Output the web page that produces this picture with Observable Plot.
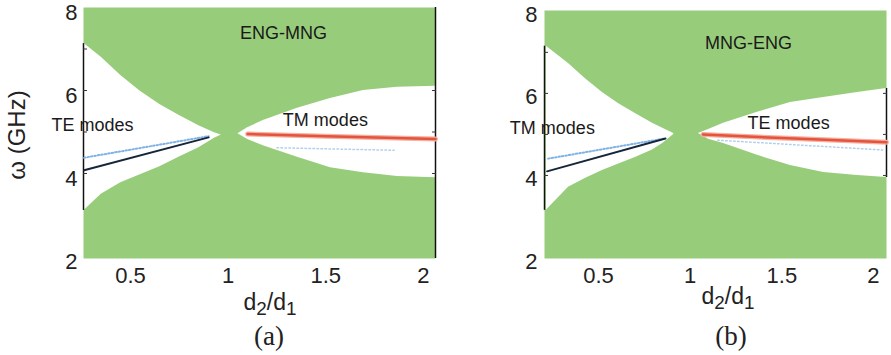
<!DOCTYPE html>
<html><head><meta charset="utf-8">
<script src="https://cdn.jsdelivr.net/npm/d3@7"></script>
<script src="https://cdn.jsdelivr.net/npm/@observablehq/plot@0.6"></script>
<style>
body{margin:0;background:#fff;}
#wrap{position:relative;width:891px;height:355px;font-family:"Liberation Sans",Arial,sans-serif;overflow:hidden;}
.panel{position:absolute;top:0;}
.xl{position:absolute;font-size:23px;line-height:1;text-align:center;width:120px;color:#222;}
.xl sub{font-size:0.82em;vertical-align:-0.25em;line-height:0;}
.yl{position:absolute;font-size:24px;line-height:1;width:140px;text-align:center;color:#222;transform:rotate(-90deg);transform-origin:center center;}
.cap{position:absolute;font-family:"Liberation Serif","Times New Roman",serif;font-size:27px;line-height:1;width:80px;text-align:center;color:#222;}
</style></head>
<body><div id="wrap">
<div id="pa" class="panel" style="left:0"></div>
<div id="pb" class="panel" style="left:445px"></div>
<div class="yl" style="left:-53px;top:123px">ω (GHz)</div>
<div class="xl" style="left:210px;top:291px">d<sub>2</sub>/d<sub>1</sub></div>
<div class="xl" style="left:668px;top:285px">d<sub>2</sub>/d<sub>1</sub></div>
<div class="cap" style="left:229px;top:323px">(a)</div>
<div class="cap" style="left:691px;top:323px">(b)</div>
</div>
<script>
const GREEN = "#97cd7a";
const xTicks = [0.5, 1, 1.5, 2];
const yTicks = [2, 4, 6, 8];
const minorTicks = [4, 5, 6, 7];
const rightTicks = [4, 5, 6];

// ---- Panel (a): ENG-MNG ----
const aXDomain = [0.259, 2.062];
const aYDomain = [1.952, 8];
const aLeftX   = [0.262, 0.35, 0.45, 0.55, 0.65, 0.75, 0.85, 0.93, 0.965];
const aLeftTop = [7.13, 6.80, 6.36, 5.98, 5.66, 5.40, 5.15, 4.98, 4.93];
const aLeftBot = [3.11, 3.50, 3.78, 3.97, 4.16, 4.40, 4.62, 4.85, 4.93];
const aRightX   = [1.05, 1.10, 1.18, 1.355, 1.524, 1.693, 1.867, 2.062];
const aRightTop = [4.96, 5.10, 5.28, 5.57, 5.81, 6.00, 6.08, 6.10];
const aRightBot = [4.96, 4.82, 4.67, 4.39, 4.14, 4.02, 3.93, 3.90];
const aBlackX = [0.262, 0.90];
const aBlackY = [4.08, 4.87];
const aBlueX = [0.262, 0.90];
const aBlueY = [4.38, 4.90];
const aRedX = [1.10, 1.5, 2.062];
const aRedY = [4.95, 4.90, 4.83];
const aFaintX = [1.25, 1.85];
const aFaintY = [4.62, 4.56];
const aLabels = [
  {x: 1.283, y: 7.37, text: "ENG-MNG", anchor: "middle"},
  {x: 0.305, y: 5.16, text: "TE modes", anchor: "start"},
  {x: 1.498, y: 5.28, text: "TM modes", anchor: "start"}
];

// ---- Panel (b): MNG-ENG ----
const bXDomain = [0.205, 2.071];
const bYDomain = [1.976, 8.02];
const bLeftX   = [0.215, 0.336, 0.43, 0.521, 0.61, 0.701, 0.794, 0.85, 0.91];
const bLeftTop = [7.15, 6.73, 6.35, 6.02, 5.75, 5.51, 5.27, 5.15, 5.02];
const bLeftBot = [3.15, 3.71, 3.93, 4.12, 4.28, 4.44, 4.62, 4.78, 5.00];
const bRightX   = [1.045, 1.10, 1.182, 1.367, 1.547, 1.728, 1.913, 2.071];
const bRightTop = [5.02, 5.12, 5.27, 5.54, 5.78, 5.90, 6.02, 6.12];
const bRightBot = [5.02, 4.88, 4.78, 4.49, 4.24, 4.07, 4.00, 3.95];
const bBlackX = [0.219, 0.865];
const bBlackY = [4.10, 4.90];
const bBlueX = [0.225, 0.86];
const bBlueY = [4.41, 4.90];
const bRedX = [1.07, 1.5, 2.071];
const bRedY = [5.00, 4.91, 4.81];
const bFaintX = [1.15, 2.05];
const bFaintY = [4.86, 4.62];
const bLabels = [
  {x: 1.318, y: 7.22, text: "MNG-ENG", anchor: "middle"},
  {x: 0.248, y: 5.15, text: "TM modes", anchor: "start"},
  {x: 1.537, y: 5.27, text: "TE modes", anchor: "start"}
];

const wedge = (xs, lo, hi) => xs.map((x, i) => ({x, lo: lo[i], hi: hi[i]}));
const pts = (xs, ys) => xs.map((x, i) => ({x, y: ys[i]}));

function panel(c) {
  const left = wedge(c.lx, c.lb, c.lt);
  const right = wedge(c.rx, c.rb, c.rt);
  const marks = [
    Plot.frame({fill: GREEN, stroke: "none"}),
    Plot.areaY(left, {x: "x", y1: "lo", y2: "hi", fill: "white"}),
    Plot.areaY(right, {x: "x", y1: "lo", y2: "hi", fill: "white"}),
    Plot.ruleX([c.xDomain[0]], {y1: c.lb[0], y2: c.lt[0], stroke: "#111", strokeWidth: 1.5}),
    c.fullRight
      ? Plot.ruleX([c.xDomain[1]], {stroke: "#111", strokeWidth: 1.5})
      : Plot.ruleX([c.xDomain[1]], {y1: c.rb[c.rb.length - 1], y2: c.rt[c.rt.length - 1], stroke: "#111", strokeWidth: 1.5}),
    Plot.axisY(minorTicks, {anchor: "left", tickSize: 4, dx: 4, tickFormat: () => "", label: null, stroke: "#333"}),
    Plot.axisY(rightTicks, {anchor: "right", tickSize: 4, dx: -4, tickFormat: () => "", label: null, stroke: "#333"}),
    Plot.line(pts(c.fx, c.fy), {x: "x", y: "y", stroke: "#9cc3ea", strokeWidth: 1.5, strokeDasharray: "1.5,2.5", strokeOpacity: 0.8}),
    Plot.line(pts(c.ux, c.uy), {x: "x", y: "y", stroke: "#7fb3e6", strokeWidth: 2, strokeDasharray: "1.5,2"}),
    Plot.line(pts(c.kx, c.ky), {x: "x", y: "y", stroke: "#16263a", strokeWidth: 2}),
    Plot.line(pts(c.rdx, c.rdy), {x: "x", y: "y", stroke: "#f4b0a2", strokeWidth: 5}),
    Plot.line(pts(c.rdx, c.rdy), {x: "x", y: "y", stroke: "#e4533c", strokeWidth: 2.5}),
    Plot.text(c.labels, {x: "x", y: "y", text: "text", textAnchor: d => d.anchor, fontSize: 18, fill: "#1a1a1a"}),
    Plot.axisX(xTicks, {tickSize: 0, tickPadding: 9, fontSize: 22, tickFormat: d => String(d), label: null}),
    Plot.axisY(yTicks, {tickSize: 0, tickPadding: c.tp, dy: c.tdy, fontSize: 22, label: null})
  ];
  return Plot.plot({
    width: c.width, height: 290,
    marginLeft: c.ml, marginRight: c.mr, marginTop: c.mt, marginBottom: 32,
    x: {domain: c.xDomain},
    y: {domain: c.yDomain},
    style: {fontFamily: '"Liberation Sans", Arial, sans-serif', fontSize: "22px", color: "#222", background: "transparent", overflow: "visible"},
    marks
  });
}

document.getElementById("pa").append(panel({
  width: 445, ml: 83, mr: 10, mt: 7, tp: 6, tdy: 5, xDomain: aXDomain, yDomain: aYDomain,
  lx: aLeftX, lt: aLeftTop, lb: aLeftBot, rx: aRightX, rt: aRightTop, rb: aRightBot,
  kx: aBlackX, ky: aBlackY, ux: aBlueX, uy: aBlueY, rdx: aRedX, rdy: aRedY,
  fx: aFaintX, fy: aFaintY, labels: aLabels, fullRight: true
}));
document.getElementById("pb").append(panel({
  width: 446, ml: 99, mr: 5, mt: 10, tp: 7, tdy: 4, xDomain: bXDomain, yDomain: bYDomain,
  lx: bLeftX, lt: bLeftTop, lb: bLeftBot, rx: bRightX, rt: bRightTop, rb: bRightBot,
  kx: bBlackX, ky: bBlackY, ux: bBlueX, uy: bBlueY, rdx: bRedX, rdy: bRedY,
  fx: bFaintX, fy: bFaintY, labels: bLabels, fullRight: false
}));
</script>
</body></html>
